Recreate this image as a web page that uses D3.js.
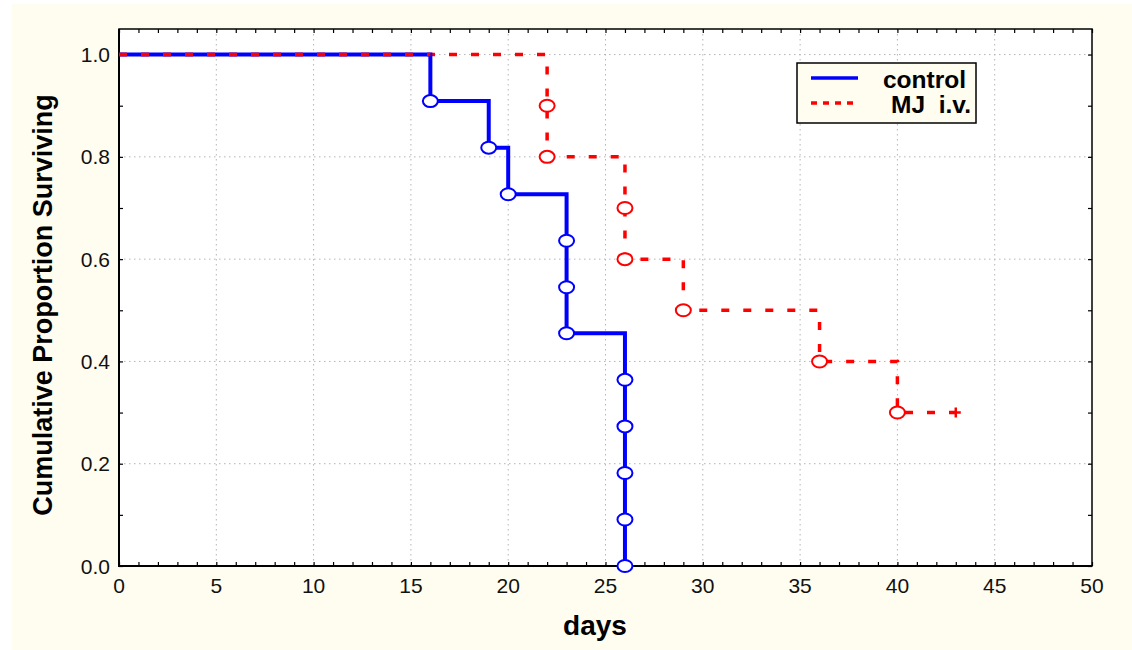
<!DOCTYPE html>
<html>
<head>
<meta charset="utf-8">
<script src="https://cdn.jsdelivr.net/npm/d3@7"></script>
<style>
  body { margin: 0; background: #fff; }
  svg { display: block; font-family: "Liberation Sans", Arial, sans-serif; }
</style>
</head>
<body>
<div id="chart"></div>
<script>
// Kaplan-Meier data
const controlTimes = [16, 19, 20, 23, 23, 23, 26, 26, 26, 26, 26];
const controlSurv = [0.909, 0.818, 0.727, 0.636, 0.545, 0.455, 0.364, 0.273, 0.182, 0.091, 0.0];
const mjTimes = [22, 22, 26, 26, 29, 36, 40];
const mjSurv = [0.9, 0.8, 0.7, 0.6, 0.5, 0.4, 0.3];
const mjCensorTime = 43;
const mjCensorSurv = 0.3;

const xTicks = [0, 5, 10, 15, 20, 25, 30, 35, 40, 45, 50];
const yTicks = [0, 0.2, 0.4, 0.6, 0.8, 1.0];
const seriesNames = ["control", "MJ  i.v."];

const W = 1132, H = 650;
const PLOT = { left: 119, right: 1092, top: 29, bottom: 566 };
const CREAM = "#fffdf0";

const svg = d3.select("#chart").append("svg")
    .attr("width", W)
    .attr("height", H);

// fond crème
svg.append("rect")
    .attr("x", 12).attr("y", 4)
    .attr("width", W - 12).attr("height", H - 4)
    .attr("fill", CREAM);

const x = d3.scaleLinear().domain([0, 50]).range([PLOT.left, PLOT.right]);
const y = d3.scaleLinear().domain([0, 1.05]).range([PLOT.bottom, PLOT.top]);

// zone du graphique
svg.append("rect")
    .attr("x", PLOT.left).attr("y", PLOT.top)
    .attr("width", PLOT.right - PLOT.left)
    .attr("height", PLOT.bottom - PLOT.top)
    .attr("fill", "#fff");

// grille pointillée
const grid = svg.append("g")
    .attr("stroke", "#b4b4b4")
    .attr("stroke-width", 1)
    .attr("stroke-dasharray", "1.5,3.5");
grid.selectAll("line.gx")
    .data(xTicks.slice(1, -1))
    .join("line")
    .attr("x1", d => x(d)).attr("x2", d => x(d))
    .attr("y1", PLOT.top).attr("y2", PLOT.bottom);
grid.selectAll("line.gy")
    .data(yTicks.slice(1))
    .join("line")
    .attr("x1", PLOT.left).attr("x2", PLOT.right)
    .attr("y1", d => y(d)).attr("y2", d => y(d));

// axes (ticks vers l'intérieur)
const minorX = d3.range(0, 51, 1);
const minorY = d3.range(0, 1.001, 0.1);

svg.append("g")
    .attr("transform", `translate(0,${PLOT.bottom})`)
    .call(d3.axisTop(x).tickValues(minorX).tickSize(4).tickFormat(""))
    .call(g => g.select(".domain").remove());
svg.append("g")
    .attr("transform", `translate(0,${PLOT.top})`)
    .call(d3.axisBottom(x).tickValues(minorX).tickSize(4).tickFormat(""))
    .call(g => g.select(".domain").remove());
svg.append("g")
    .attr("transform", `translate(${PLOT.left},0)`)
    .call(d3.axisRight(y).tickValues(minorY).tickSize(4).tickFormat(""))
    .call(g => g.select(".domain").remove());
svg.append("g")
    .attr("transform", `translate(${PLOT.right},0)`)
    .call(d3.axisLeft(y).tickValues(minorY).tickSize(4).tickFormat(""))
    .call(g => g.select(".domain").remove());
svg.selectAll(".tick line").attr("stroke", "#000").attr("stroke-width", 1.2);

// cadre
svg.append("rect")
    .attr("x", PLOT.left).attr("y", PLOT.top)
    .attr("width", PLOT.right - PLOT.left)
    .attr("height", PLOT.bottom - PLOT.top)
    .attr("fill", "none")
    .attr("stroke", "#000")
    .attr("stroke-width", 1.5);
svg.append("line")
    .attr("x1", PLOT.left).attr("x2", PLOT.left)
    .attr("y1", PLOT.top).attr("y2", PLOT.bottom + 1)
    .attr("stroke", "#000").attr("stroke-width", 2);
svg.append("line")
    .attr("x1", PLOT.left).attr("x2", PLOT.right)
    .attr("y1", PLOT.bottom).attr("y2", PLOT.bottom)
    .attr("stroke", "#000").attr("stroke-width", 2);

// étiquettes des ticks
svg.selectAll("text.xt")
    .data(xTicks)
    .join("text")
    .attr("x", d => x(d))
    .attr("y", 593)
    .attr("text-anchor", "middle")
    .attr("font-size", 21)
    .attr("fill", "#111")
    .text(d => d);
svg.selectAll("text.yt")
    .data(yTicks)
    .join("text")
    .attr("x", 110)
    .attr("y", d => y(d) + 7.5)
    .attr("text-anchor", "end")
    .attr("font-size", 21)
    .attr("fill", "#111")
    .text(d => d.toFixed(1));

// titres des axes
svg.append("text")
    .attr("x", 595)
    .attr("y", 635)
    .attr("text-anchor", "middle")
    .attr("font-size", 28)
    .attr("font-weight", "bold")
    .text("days");
svg.append("text")
    .attr("transform", "translate(52,305) rotate(-90)")
    .attr("text-anchor", "middle")
    .attr("font-size", 27)
    .attr("font-weight", "bold")
    .text("Cumulative Proportion Surviving");

// chemin en escalier
function stepPath(times, surv, endTime) {
    const pts = [[0, 1]];
    let prev = 1;
    times.forEach((t, i) => {
        pts.push([t, prev]);
        pts.push([t, surv[i]]);
        prev = surv[i];
    });
    if (endTime !== undefined) pts.push([endTime, prev]);
    return d3.line().x(d => x(d[0])).y(d => y(d[1]))(pts);
}

// courbe MJ (rouge, pointillée)
svg.append("path")
    .attr("d", stepPath(mjTimes, mjSurv, mjCensorTime))
    .attr("fill", "none")
    .attr("stroke", "#ff0000")
    .attr("stroke-width", 3.5)
    .attr("stroke-dasharray", "8,14");

// courbe contrôle (bleue)
svg.append("path")
    .attr("d", stepPath(controlTimes, controlSurv))
    .attr("fill", "none")
    .attr("stroke", "#0000ff")
    .attr("stroke-width", 4);

// re-dessin du pointillé rouge sur la partie commune à 1.0
svg.append("path")
    .attr("d", d3.line()([[x(0), y(1)], [x(16), y(1)]]))
    .attr("fill", "none")
    .attr("stroke", "#ff0000")
    .attr("stroke-width", 3.5)
    .attr("stroke-dasharray", "8,14");

// marqueurs
svg.selectAll("ellipse.ctl")
    .data(controlTimes.map((t, i) => [t, controlSurv[i]]))
    .join("ellipse")
    .attr("cx", d => x(d[0]))
    .attr("cy", d => y(d[1]))
    .attr("rx", 7.5).attr("ry", 6)
    .attr("fill", "#fff")
    .attr("stroke", "#0000ff")
    .attr("stroke-width", 2);
svg.selectAll("ellipse.mj")
    .data(mjTimes.map((t, i) => [t, mjSurv[i]]))
    .join("ellipse")
    .attr("cx", d => x(d[0]))
    .attr("cy", d => y(d[1]))
    .attr("rx", 7.5).attr("ry", 6)
    .attr("fill", "#fff")
    .attr("stroke", "#ff0000")
    .attr("stroke-width", 2);

// censure (+)
const cx = x(mjCensorTime), cy = y(mjCensorSurv);
svg.append("path")
    .attr("d", `M${cx - 5},${cy}H${cx + 5}M${cx},${cy - 5}V${cy + 5}`)
    .attr("stroke", "#ff0000")
    .attr("stroke-width", 2.5);

// légende
const legend = svg.append("g");
legend.append("rect")
    .attr("x", 797).attr("y", 63)
    .attr("width", 179).attr("height", 60)
    .attr("fill", CREAM)
    .attr("stroke", "#000")
    .attr("stroke-width", 1.5);
legend.append("line")
    .attr("x1", 811).attr("x2", 858)
    .attr("y1", 78).attr("y2", 78)
    .attr("stroke", "#0000ff").attr("stroke-width", 3.5);
legend.append("line")
    .attr("x1", 811).attr("x2", 853)
    .attr("y1", 103).attr("y2", 103)
    .attr("stroke", "#ff0000").attr("stroke-width", 3.5)
    .attr("stroke-dasharray", "6,6");
legend.selectAll("text")
    .data(seriesNames)
    .join("text")
    .attr("x", (d, i) => i === 0 ? 966 : 971)
    .attr("y", (d, i) => i === 0 ? 88 : 113)
    .attr("text-anchor", "end")
    .attr("font-size", 24.5)
    .attr("font-weight", "bold")
    .attr("xml:space", "preserve")
    .style("white-space", "pre")
    .text(d => d);
</script>
</body>
</html>
